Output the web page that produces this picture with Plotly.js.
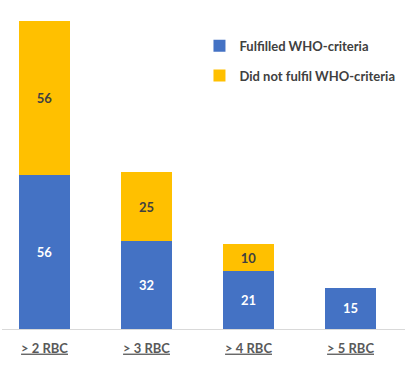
<!DOCTYPE html>
<html><head><meta charset="utf-8">
<script src="https://cdn.plot.ly/plotly-3.0.1.min.js"></script>
<style>html,body{margin:0;padding:0;background:#fff}#chart{width:410px;height:365px}</style>
</head><body><div id="chart"></div>
<script>
var categories = ["> 2 RBC", "> 3 RBC", "> 4 RBC", "> 5 RBC"];
var fulfilled = [56, 32, 21, 15];
var notFulfilled = [56, 25, 10, null];
var seriesNames = ["Fulfilled WHO-criteria", "Did not fulfil WHO-criteria"];
var tickLabels = categories.map(function(c){ return "<b><u>" + c.replace(">", "&gt;") + "</u></b>"; });

var font = "Lato, 'Open Sans', sans-serif";
var traces = [
  {type:'bar', x:categories, y:fulfilled, name:'<b>' + seriesNames[0] + '</b>', legendgroup:'a',
   marker:{color:'#4472C4'}, width:0.5,
   text:fulfilled.map(function(v){return v==null?'':'<b>'+v+'</b>';}), texttemplate:'%{text}',
   textposition:'inside', insidetextanchor:'middle', constraintext:'none',
   textfont:{family:font, size:13, color:'#ffffff'}, hoverinfo:'none'},
  {type:'bar', x:categories, y:notFulfilled, name:'<b>' + seriesNames[1] + '</b>', legendgroup:'b',
   marker:{color:'#FFC000'}, width:0.5,
   text:notFulfilled.map(function(v){return v==null?'':'<b>'+v+'</b>';}), texttemplate:'%{text}',
   textposition:'inside', insidetextanchor:'middle', constraintext:'none',
   textfont:{family:font, size:13, color:'#404040'}, hoverinfo:'none'}
];
var layout = {
  width:410, height:365, barmode:'stack', bargap:0.5,
  margin:{l:2, r:5, t:10, b:36},
  paper_bgcolor:'#ffffff', plot_bgcolor:'#ffffff',
  font:{family:font, color:'#595959'},
  xaxis:{type:'category', range:[-0.4167, 3.534], showline:true, linecolor:'#d9d9d9', linewidth:1,
    ticks:'', ticklabelstandoff:7, tickvals:categories, ticktext:tickLabels,
    tickfont:{family:font, size:13, color:'#595959'}, fixedrange:true},
  yaxis:{range:[0,116], visible:false, showgrid:false, zeroline:false},
  showlegend:true,
  legend:{x:0.49, y:0.935, xanchor:'left', yanchor:'top', traceorder:'grouped', tracegroupgap:10,
    font:{family:font, size:13, color:'#404040'}, bgcolor:'rgba(0,0,0,0)', itemwidth:30}
};
Plotly.newPlot('chart', traces, layout, {staticPlot:true});
</script></body></html>
